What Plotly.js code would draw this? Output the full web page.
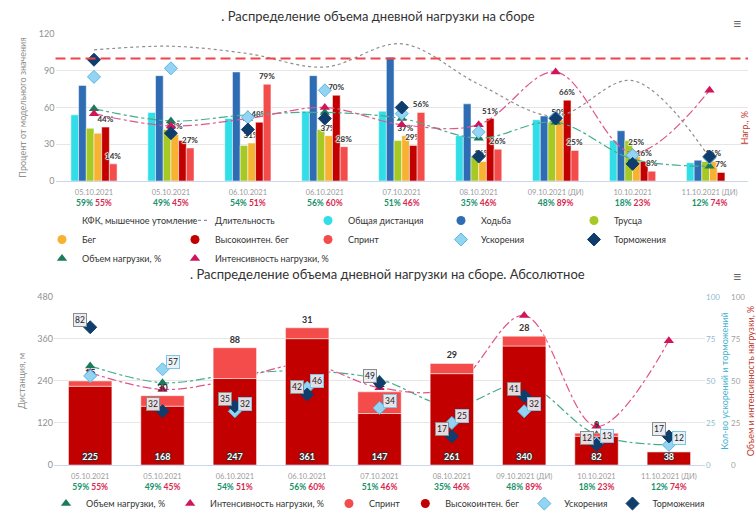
<!DOCTYPE html>
<html><head><meta charset="utf-8">
<script src="https://cdn.plot.ly/plotly-3.0.1.min.js"></script>
<style>html,body{margin:0;padding:0;background:#fff}#chart{width:756px;height:513px}</style>
</head><body><div id="chart"></div>
<script>
// ---------- data ----------
const dates = ['05.10.2021','05.10.2021','06.10.2021','06.10.2021','07.10.2021','08.10.2021','09.10.2021 (ДИ)','10.10.2021','11.10.2021 (ДИ)'];
const volumePct    = [59,49,54,56,51,35,48,18,12];
const intensityPct = [55,45,51,60,46,46,89,23,74];
// top chart: percent of model value
const totalDistPct = [54,56,51,57,57,37,50,33,15];
const walkPct      = [78,86,89,86,101,63,53,41,17];
const joggingPct   = [43,42,29,42,33,20,48,33,16];
const runPct       = [39,38,31,37,37,16,50,25,16];
const hiRunPct     = [44,33,48,70,29,51,66,16,7];
const sprintPct    = [14,27,79,28,56,26,25,8,0];
const accelPct     = [85,92,52,74,55,40,52,21,19];
const decelPct     = [99,39,42,51,60,20,51,14,20];
const durationPct  = [107,110,104,93,112,79,53,82,19];
const modelLevel = 100;
// bottom chart: absolute values
const hiRunM      = [225,168,247,361,147,261,340,82,38];
const sprintM     = [15,30,88,31,62,29,28,9,0];
const accelCount  = [53,57,32,46,34,25,32,13,12];
const decelCount  = [82,32,35,42,49,17,41,12,17];

// ---------- styles ----------
const FONT = 'Lato, Open Sans, sans-serif';
const C = {
  total:'#31dde6', walk:'#2e6db4', jog:'#a7c923', run:'#f8b232', hi:'#c30000', sprint:'#f44b4b',
  accel:'#93d4f2', accelLine:'#5cb6e2', decel:'#0f3d6c', vol:'#1d7b5c', volLine:'#45ad8c',
  int:'#d1155b', intLine:'#e0558a', dur:'#8e8e8e'
};
const xIdx = dates.map((_, i) => i);
const tickText = dates.map((d, i) =>
  `<span style="font-size:7.5px;fill:#9a9a9a">${d}</span><br><b><span style="fill:#17916a">${volumePct[i]}%</span> <span style="fill:#d8294f">${intensityPct[i]}%</span></b>`);

const pctLabel = v => v > 0 ? v + '%' : '';
const runText = runPct.map((v, i) => (Math.abs(v - hiRunPct[i]) < 6 && v < hiRunPct[i]) ? '' : pctLabel(v));
const hiText  = hiRunPct.map((v, i) => (Math.abs(v - runPct[i]) < 6 && v < runPct[i]) ? '' : pctLabel(v));
const sprText = sprintPct.map(pctLabel);
const lblFont = {size:8, color:'#333', weight:'bold', family:FONT, shadow:'1px 0 1px #fff, -1px 0 1px #fff, 0 1px 1px #fff, 0 -1px 1px #fff'};

function topBar(name, y, color, text) {
  const t = {type:'bar', name, x:xIdx, y, xaxis:'x', yaxis:'y', showlegend:false,
    marker:{color, line:{color:'#fff', width:0.5}}, hoverinfo:'y+name'};
  if (text) Object.assign(t, {text, textposition:'outside', textfont:lblFont, constraintext:'none', cliponaxis:false, textangle:0});
  return t;
}
function dummy(name, legend, rank, marker) {
  return {type:'scatter', mode:'markers', x:[null], y:[null], name, legend, legendrank:rank, marker, hoverinfo:'skip'};
}
const circ = c => ({symbol:'circle', size:9, color:c});
const tri = c => ({symbol:'triangle-up', size:9, color:c});
const dia = (c, lc) => ({symbol:'diamond', size:10, color:c, line:{color:lc || c, width:1}});

const traces = [
  // top bars
  topBar('Общая дистанция', totalDistPct, C.total),
  topBar('Ходьба', walkPct, C.walk),
  topBar('Трусца', joggingPct, C.jog),
  topBar('Бег', runPct, C.run, runText),
  topBar('Высокоинтен. бег', hiRunPct, C.hi, hiText),
  topBar('Спринт', sprintPct, C.sprint, sprText),
  // top lines / markers
  {type:'scatter', mode:'lines', name:'Длительность', x:xIdx, y:durationPct, xaxis:'x', yaxis:'y',
    line:{color:C.dur, width:1.2, dash:'dot', shape:'spline'}, legend:'legend', legendrank:2},
  {type:'scatter', mode:'lines+markers', name:'Объем нагрузки, %', x:xIdx, y:volumePct, xaxis:'x', yaxis:'y', showlegend:false,
    line:{color:C.volLine, width:1.2, dash:'dashdot', shape:'spline'}, marker:tri(C.vol)},
  {type:'scatter', mode:'lines+markers', name:'Интенсивность нагрузки, %', x:xIdx, y:intensityPct, xaxis:'x', yaxis:'y', showlegend:false,
    line:{color:C.intLine, width:1.2, dash:'dashdot', shape:'spline'}, marker:tri(C.int)},
  {type:'scatter', mode:'markers', name:'Ускорения', x:xIdx, y:accelPct, xaxis:'x', yaxis:'y', showlegend:false, marker:dia(C.accel, C.accelLine)},
  {type:'scatter', mode:'markers', name:'Торможения', x:xIdx, y:decelPct, xaxis:'x', yaxis:'y', showlegend:false, marker:dia(C.decel)},
  // top legend
  dummy('КФК, мышечное утомление', 'legend', 1, {size:9, color:'rgba(0,0,0,0)'}),
  dummy('Общая дистанция', 'legend', 3, circ(C.total)),
  dummy('Ходьба', 'legend', 4, circ(C.walk)),
  dummy('Трусца', 'legend', 5, circ(C.jog)),
  dummy('Бег', 'legend', 6, circ(C.run)),
  dummy('Высокоинтен. бег', 'legend', 7, circ(C.hi)),
  dummy('Спринт', 'legend', 8, circ(C.sprint)),
  dummy('Ускорения', 'legend', 9, dia(C.accel, C.accelLine)),
  dummy('Торможения', 'legend', 10, dia(C.decel)),
  dummy('Объем нагрузки, %', 'legend', 11, tri(C.vol)),
  dummy('Интенсивность нагрузки, %', 'legend', 12, tri(C.int)),

  // bottom: lines on y3 (drawn first, behind bars)
  {type:'scatter', mode:'lines+markers', name:'Объем нагрузки, %', x:xIdx, y:volumePct, xaxis:'x2', yaxis:'y3', showlegend:false,
    line:{color:C.volLine, width:1.2, dash:'dashdot', shape:'spline'}, marker:tri(C.vol)},
  {type:'scatter', mode:'lines+markers', name:'Интенсивность нагрузки, %', x:xIdx, y:intensityPct, xaxis:'x2', yaxis:'y3', showlegend:false,
    line:{color:C.intLine, width:1.2, dash:'dashdot', shape:'spline'}, marker:tri(C.int)},
  // bottom bars on y4
  {type:'bar', name:'Высокоинтен. бег', x:xIdx, y:hiRunM, xaxis:'x2', yaxis:'y4', offsetgroup:'abs', showlegend:false,
    marker:{color:C.hi, line:{color:'#fff', width:0.5}}, text:hiRunM.map(String), textposition:'inside', insidetextanchor:'start',
    textangle:0, constraintext:'none',
    textfont:{size:9, color:'#fff', weight:'bold', family:FONT, shadow:'1px 0 1px #333, -1px 0 1px #333, 0 1px 1px #333, 0 -1px 1px #333'}},
  {type:'bar', name:'Спринт', x:xIdx, y:sprintM, base:hiRunM, xaxis:'x2', yaxis:'y4', offsetgroup:'abs', showlegend:false,
    marker:{color:C.sprint, line:{color:'#fff', width:0.5}}, text:sprintM.map(v => v > 0 ? String(v) : ''), textposition:'outside',
    textangle:0, constraintext:'none', cliponaxis:false, textfont:{size:9, color:'#333', weight:'bold', family:FONT}},
  // bottom markers on y5
  {type:'scatter', mode:'markers', name:'Ускорения', x:xIdx, y:accelCount, xaxis:'x2', yaxis:'y5', showlegend:false, marker:dia(C.accel, C.accelLine)},
  {type:'scatter', mode:'markers', name:'Торможения', x:xIdx, y:decelCount, xaxis:'x2', yaxis:'y5', showlegend:false, marker:dia(C.decel)},
  // bottom legend
  dummy('Объем нагрузки, %', 'legend2', 1, tri(C.vol)),
  dummy('Интенсивность нагрузки, %', 'legend2', 2, tri(C.int)),
  dummy('Спринт', 'legend2', 3, circ(C.sprint)),
  dummy('Высокоинтен. бег', 'legend2', 4, circ(C.hi)),
  dummy('Ускорения', 'legend2', 5, dia(C.accel, C.accelLine)),
  dummy('Торможения', 'legend2', 6, dia(C.decel)),
];

// boxed labels for accelerations / decelerations (bottom chart)
const annotations = [];
xIdx.forEach(i => {
  annotations.push({xref:'x2', yref:'y5', x:i, y:decelCount[i], text:String(decelCount[i]), showarrow:false,
    xshift:-10, yshift:7, font:{size:8.5, color:'#222', family:FONT}, bgcolor:'rgba(232,236,241,0.92)',
    bordercolor:'#8c8c8c', borderwidth:1, borderpad:1});
  const barTopLabel = hiRunM[i] + sprintM[i] + 12;
  const hidden = sprintM[i] > 0 && Math.abs(accelCount[i] * 4.8 - barTopLabel) < 12;
  if (!hidden) annotations.push({xref:'x2', yref:'y5', x:i, y:accelCount[i], text:String(accelCount[i]), showarrow:false,
    xshift:10, yshift:7, font:{size:8.5, color:'#222', family:FONT}, bgcolor:'rgba(232,240,246,0.92)',
    bordercolor:'#7fc3e6', borderwidth:1, borderpad:1});
});
annotations.push(
  {xref:'paper', yref:'paper', x:0.4915, y:0.443, text:'. Распределение объема дневной нагрузки на сборе. Абсолютное',
    showarrow:false, font:{size:13, color:'#333', family:FONT}},
  {xref:'paper', yref:'paper', x:0.995, y:1.05, text:'≡', showarrow:false, font:{size:15, color:'#666'}},
  {xref:'paper', yref:'paper', x:0.995, y:0.4385, text:'≡', showarrow:false, font:{size:15, color:'#666'}},
  {xref:'paper', yref:'paper', x:1.0056, y:0.828, text:'Нагр., %', textangle:-90, showarrow:false, font:{size:9, color:'#c0392b', family:FONT}}
);

const tickF = {size:9, color:'#8f8f8f', family:FONT};
const xTickF = {size:8.5, color:'#666', family:FONT};
const layout = {
  width:756, height:513, margin:{l:40, r:8, t:34, b:48, autoexpand:false},
  paper_bgcolor:'#fff', plot_bgcolor:'#fff', font:{family:FONT, size:9, color:'#333'},
  title:{text:'. Распределение объема дневной нагрузки на сборе', x:0.5, y:0.977, font:{size:13, color:'#333', family:FONT}},
  barmode:'group', bargap:0.4, bargroupgap:0,
  xaxis:{domain:[0.0219, 1], anchor:'y', range:[-0.5, 8.5], tickvals:xIdx, ticktext:tickText, tickfont:xTickF, ticklabelstandoff:3,
    showline:true, linecolor:'#ccd6eb', ticks:'', showgrid:false, zeroline:false},
  yaxis:{domain:[0.6589, 1], anchor:'x', range:[0, 120], dtick:30, gridcolor:'#e6e6e6', zeroline:false, ticks:'',
    tickfont:tickF, title:{text:'Процент от модельного значения', font:{size:9, color:'#8f8f8f', family:FONT}, standoff:10}},
  xaxis2:{domain:[0.0198, 0.9393], anchor:'y3', range:[-0.5, 8.5], tickvals:xIdx, ticktext:tickText, tickfont:xTickF, ticklabelstandoff:3,
    showline:true, linecolor:'#ccd6eb', ticks:'', showgrid:false, zeroline:false},
  yaxis3:{domain:[0, 0.3898], anchor:'free', position:0.9746, side:'right', range:[0, 100], dtick:25, showgrid:false, zeroline:false, ticks:'',
    tickfont:{size:8, color:'#a0a0a0', family:FONT},
    title:{text:'Объем и интенсивность нагрузки, %', font:{size:9, color:'#c0392b', family:FONT}, standoff:4}},
  yaxis4:{overlaying:'y3', anchor:'x2', side:'left', range:[0, 480], dtick:120, gridcolor:'#e6e6e6', zeroline:false, ticks:'',
    tickfont:tickF, title:{text:'Дистанция, м', font:{size:9, color:'#8f8f8f', family:FONT}, standoff:10}},
  yaxis5:{overlaying:'y3', anchor:'x2', side:'right', range:[0, 100], dtick:25, showgrid:false, zeroline:false, ticks:'',
    tickfont:{size:8, color:'#8fbccc', family:FONT},
    title:{text:'Кол-во ускорений и торможений', font:{size:9, color:'#3fb3cc', family:FONT}, standoff:2}},
  shapes:[{type:'line', xref:'x domain', yref:'y', x0:0, x1:1, y0:modelLevel, y1:modelLevel, line:{color:'#f0444c', width:2, dash:'10px,5px'}}],
  legend:{orientation:'h', x:0.0028, xanchor:'left', y:0.601, yanchor:'top', entrywidth:88, entrywidthmode:'pixels',
    font:{size:9, color:'#333', family:FONT}, traceorder:'normal', bgcolor:'rgba(0,0,0,0)'},
  legend2:{orientation:'h', x:0.4774, xanchor:'center', y:-0.0557, yanchor:'top',
    font:{size:9, color:'#333', family:FONT}, traceorder:'normal', bgcolor:'rgba(0,0,0,0)'},
  annotations, showlegend:true, hovermode:'closest'
};
Plotly.newPlot('chart', traces, layout, {displayModeBar:false, staticPlot:true});
</script>
</body></html>
